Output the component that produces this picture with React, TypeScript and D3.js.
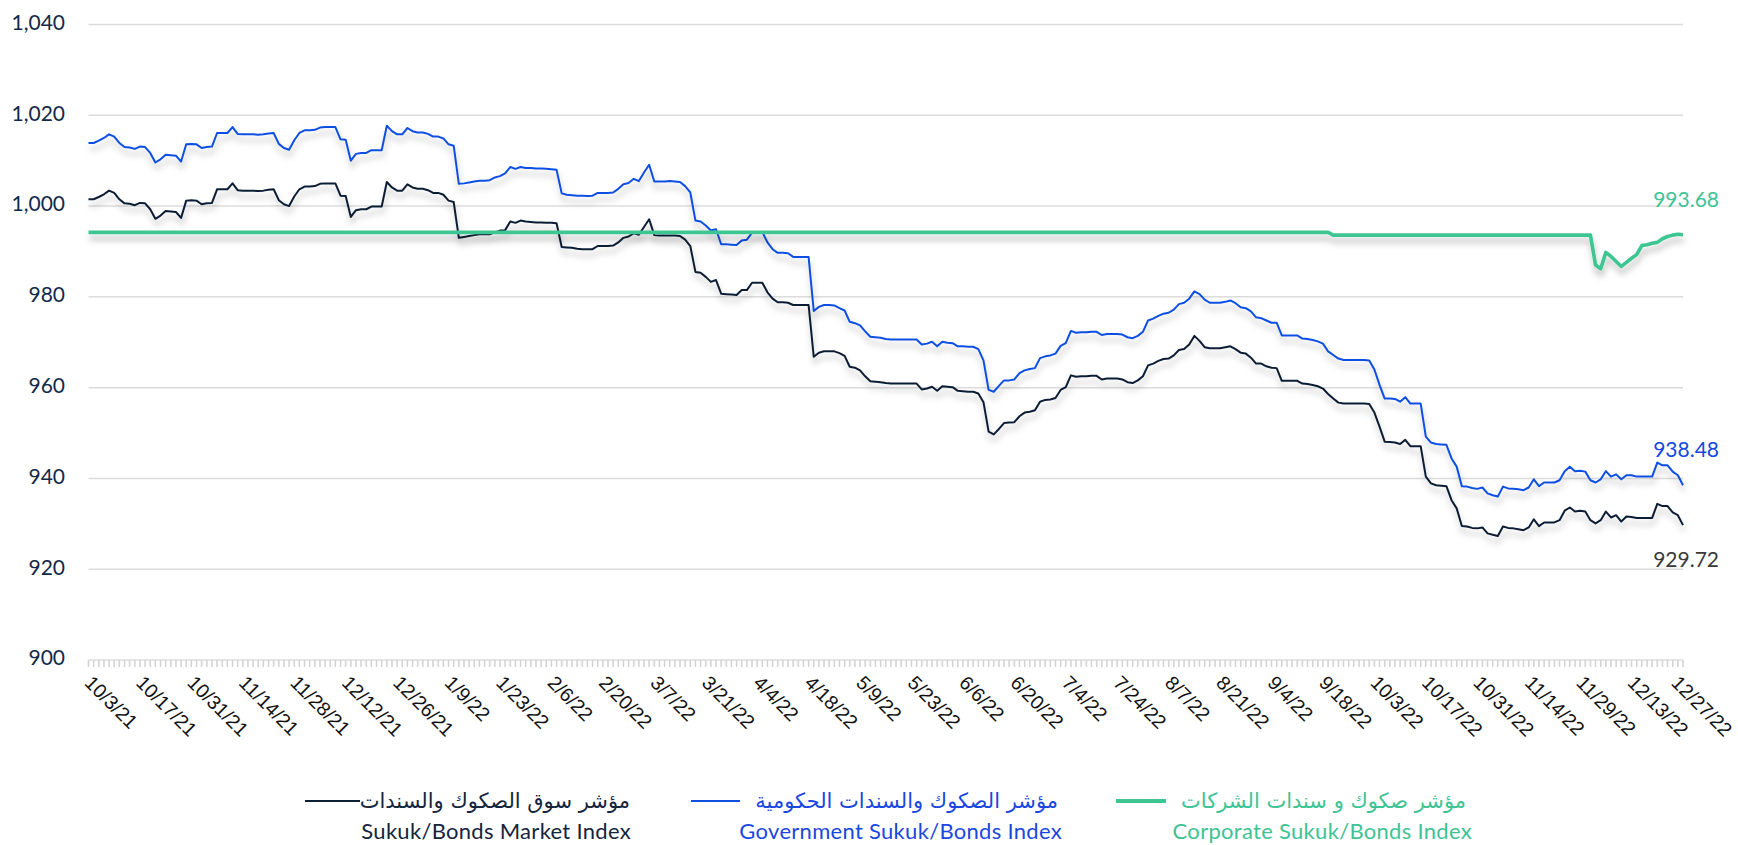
import * as d3 from 'd3';

// tick label every 10 trading days
const tickLabels = [
  '10/3/21', '10/17/21', '10/31/21', '11/14/21', '11/28/21', '12/12/21', '12/26/21', '1/9/22',
  '1/23/22', '2/6/22', '2/20/22', '3/7/22', '3/21/22', '4/4/22', '4/18/22', '5/9/22',
  '5/23/22', '6/6/22', '6/20/22', '7/4/22', '7/24/22', '8/7/22', '8/21/22', '9/4/22',
  '9/18/22', '10/3/22', '10/17/22', '10/31/22', '11/14/22', '11/29/22', '12/13/22', '12/27/22',
];

const yTicks = [900, 920, 940, 960, 980, 1000, 1020, 1040];

// Sukuk/Bonds Market Index
const market = [
  1001.5, 1001.5, 1002.0, 1002.6, 1003.4, 1002.9, 1001.5, 1000.6, 1000.5, 1000.2,
  1000.7, 1000.6, 999.3, 997.2, 997.9, 998.9, 998.8, 998.7, 997.4, 1001.2,
  1001.3, 1001.2, 1000.4, 1000.6, 1000.7, 1003.7, 1003.7, 1003.7, 1005.0, 1003.5,
  1003.4, 1003.4, 1003.4, 1003.3, 1003.4, 1003.6, 1003.7, 1001.3, 1000.4, 1000.0,
  1002.1, 1003.7, 1004.3, 1004.3, 1004.4, 1004.9, 1005.0, 1005.0, 1005.0, 1002.3,
  1002.2, 997.6, 999.1, 999.3, 999.3, 999.9, 999.9, 999.9, 1005.3, 1004.1,
  1003.4, 1003.4, 1004.8, 1004.1, 1003.8, 1003.8, 1003.5, 1002.9, 1002.9, 1002.5,
  1001.2, 1000.9, 993.0, 993.2, 993.4, 993.6, 993.8, 993.8, 993.8, 994.2,
  994.6, 994.7, 996.6, 996.3, 996.8, 996.6, 996.5, 996.4, 996.4, 996.3,
  996.3, 996.2, 991.0, 990.9, 990.8, 990.6, 990.5, 990.5, 990.5, 991.2,
  991.2, 991.2, 991.3, 992.0, 993.0, 993.3, 994.0, 993.7, 995.4, 997.1,
  993.6, 993.5, 993.5, 993.5, 993.5, 993.4, 992.6, 991.2, 985.5, 985.3,
  984.4, 983.3, 983.7, 980.7, 980.6, 980.5, 980.4, 981.5, 981.5, 983.1,
  983.1, 983.1, 981.0, 979.6, 978.8, 978.8, 978.7, 978.2, 978.2, 978.2,
  978.2, 966.8, 967.7, 968.0, 968.0, 968.0, 967.6, 967.0, 964.6, 964.4,
  963.8, 962.5, 961.4, 961.3, 961.2, 961.0, 960.9, 960.9, 960.9, 960.9,
  960.9, 960.9, 959.6, 959.8, 960.2, 959.3, 960.3, 960.2, 960.1, 959.3,
  959.2, 959.1, 959.1, 958.7, 956.8, 950.3, 949.7, 950.9, 952.2, 952.3,
  952.4, 953.7, 954.5, 954.7, 955.0, 956.9, 957.3, 957.4, 957.7, 959.5,
  960.1, 962.7, 962.4, 962.5, 962.5, 962.6, 962.6, 961.8, 962.0, 962.0,
  962.0, 961.8, 961.2, 961.0, 961.6, 962.5, 964.9, 965.3, 965.9, 966.3,
  966.4, 967.1, 968.3, 968.5, 969.5, 971.4, 970.3, 968.9, 968.7, 968.7,
  968.7, 968.9, 969.1, 968.5, 967.7, 967.5, 966.6, 965.3, 965.3, 964.7,
  964.4, 964.3, 961.5, 961.5, 961.5, 961.5, 960.9, 960.8, 960.6, 960.3,
  959.8, 958.6, 957.6, 956.7, 956.5, 956.5, 956.5, 956.5, 956.5, 956.4,
  954.5, 951.4, 948.1, 948.0, 947.9, 947.6, 948.5, 947.1, 947.1, 947.1,
  940.4, 938.9, 938.5, 938.4, 938.3, 935.2, 933.4, 929.5, 929.4, 929.1,
  929.0, 929.2, 927.9, 927.6, 927.3, 929.4, 929.1, 929.0, 928.8, 928.6,
  929.2, 931.0, 929.5, 930.3, 930.3, 930.3, 930.8, 932.9, 933.6, 932.7,
  932.9, 932.7, 930.8, 930.1, 930.8, 932.7, 931.4, 931.9, 930.5, 931.6,
  931.5, 931.3, 931.3, 931.3, 931.3, 934.4, 933.9, 933.9, 932.5, 931.9,
  929.72,
];

// Government Sukuk/Bonds Index
const government = [
  1013.9, 1013.9, 1014.4, 1015.0, 1015.8, 1015.3, 1013.9, 1013.0, 1012.9, 1012.6,
  1013.1, 1013.0, 1011.7, 1009.6, 1010.3, 1011.3, 1011.2, 1011.1, 1009.8, 1013.6,
  1013.7, 1013.6, 1012.8, 1013.0, 1013.1, 1016.1, 1016.1, 1016.1, 1017.4, 1015.9,
  1015.8, 1015.8, 1015.8, 1015.7, 1015.8, 1016.0, 1016.1, 1013.7, 1012.8, 1012.4,
  1014.5, 1016.1, 1016.7, 1016.7, 1016.8, 1017.3, 1017.4, 1017.4, 1017.4, 1014.7,
  1014.6, 1010.0, 1011.5, 1011.7, 1011.7, 1012.3, 1012.3, 1012.3, 1017.7, 1016.5,
  1015.8, 1015.8, 1017.2, 1016.5, 1016.2, 1016.2, 1015.9, 1015.3, 1015.3, 1014.9,
  1013.6, 1013.3, 1004.9, 1005.0, 1005.2, 1005.4, 1005.6, 1005.6, 1005.7, 1006.3,
  1006.6, 1007.2, 1008.6, 1008.2, 1008.6, 1008.4, 1008.4, 1008.3, 1008.3, 1008.2,
  1008.1, 1008.0, 1002.8, 1002.5, 1002.4, 1002.3, 1002.3, 1002.2, 1002.3, 1002.9,
  1002.9, 1002.9, 1003.0, 1003.8, 1004.8, 1005.1, 1006.0, 1005.5, 1007.4, 1009.1,
  1005.4, 1005.4, 1005.4, 1005.5, 1005.4, 1005.3, 1004.4, 1003.0, 996.8, 996.6,
  995.7, 994.6, 994.9, 991.6, 991.6, 991.5, 991.4, 992.4, 992.6, 994.1,
  994.2, 994.3, 992.0, 990.5, 989.7, 989.7, 989.6, 988.8, 988.8, 988.8,
  988.8, 976.9, 977.8, 978.2, 978.2, 978.1, 977.5, 977.0, 974.5, 974.2,
  973.7, 972.4, 971.2, 971.1, 971.0, 970.7, 970.6, 970.6, 970.6, 970.6,
  970.6, 970.6, 969.5, 969.7, 970.1, 969.1, 970.1, 969.9, 969.8, 969.1,
  969.1, 969.0, 969.0, 968.5, 966.0, 959.5, 959.1, 960.4, 961.6, 961.6,
  961.8, 963.2, 963.8, 964.1, 964.3, 966.5, 966.9, 967.1, 967.5, 969.2,
  969.8, 972.5, 972.1, 972.2, 972.2, 972.3, 972.3, 971.6, 971.8, 971.8,
  971.8, 971.7, 971.1, 970.9, 971.4, 972.3, 974.8, 975.2, 975.8, 976.3,
  976.5, 977.2, 978.4, 978.7, 979.6, 981.2, 980.6, 979.4, 978.7, 978.7,
  978.7, 978.9, 979.2, 978.6, 977.7, 977.5, 976.8, 975.5, 975.3, 974.8,
  974.3, 974.3, 971.5, 971.5, 971.5, 971.5, 970.8, 970.7, 970.5, 970.2,
  969.7, 968.0, 967.2, 966.4, 966.1, 966.1, 966.1, 966.1, 966.1, 966.0,
  964.0, 960.6, 957.6, 957.6, 957.5, 956.9, 957.9, 956.5, 956.5, 956.5,
  949.2, 947.9, 947.6, 947.5, 947.4, 944.4, 942.6, 938.3, 938.2, 937.9,
  937.7, 938.0, 936.7, 936.3, 936.0, 938.2, 937.8, 937.7, 937.6, 937.4,
  938.0, 939.8, 938.3, 939.1, 939.1, 939.1, 939.6, 941.6, 942.6, 941.6,
  941.7, 941.5, 939.6, 939.1, 939.8, 941.6, 940.4, 940.9, 939.8, 940.7,
  940.7, 940.4, 940.4, 940.4, 940.4, 943.5, 942.9, 942.9, 941.5, 940.7,
  938.48,
];

// Corporate Sukuk/Bonds Index
const corporate = [
  994.2, 994.2, 994.2, 994.2, 994.2, 994.2, 994.2, 994.2, 994.2, 994.2,
  994.2, 994.2, 994.2, 994.2, 994.2, 994.2, 994.2, 994.2, 994.2, 994.2,
  994.2, 994.2, 994.2, 994.2, 994.2, 994.2, 994.2, 994.2, 994.2, 994.2,
  994.2, 994.2, 994.2, 994.2, 994.2, 994.2, 994.2, 994.2, 994.2, 994.2,
  994.2, 994.2, 994.2, 994.2, 994.2, 994.2, 994.2, 994.2, 994.2, 994.2,
  994.2, 994.2, 994.2, 994.2, 994.2, 994.2, 994.2, 994.2, 994.2, 994.2,
  994.2, 994.2, 994.2, 994.2, 994.2, 994.2, 994.2, 994.2, 994.2, 994.2,
  994.2, 994.2, 994.2, 994.2, 994.2, 994.2, 994.2, 994.2, 994.2, 994.2,
  994.2, 994.2, 994.2, 994.2, 994.2, 994.2, 994.2, 994.2, 994.2, 994.2,
  994.2, 994.2, 994.2, 994.2, 994.2, 994.2, 994.2, 994.2, 994.2, 994.2,
  994.2, 994.2, 994.2, 994.2, 994.2, 994.2, 994.2, 994.2, 994.2, 994.2,
  994.2, 994.2, 994.2, 994.2, 994.2, 994.2, 994.2, 994.2, 994.2, 994.2,
  994.2, 994.2, 994.2, 994.2, 994.2, 994.2, 994.2, 994.2, 994.2, 994.2,
  994.2, 994.2, 994.2, 994.2, 994.2, 994.2, 994.2, 994.2, 994.2, 994.2,
  994.2, 994.2, 994.2, 994.2, 994.2, 994.2, 994.2, 994.2, 994.2, 994.2,
  994.2, 994.2, 994.2, 994.2, 994.2, 994.2, 994.2, 994.2, 994.2, 994.2,
  994.2, 994.2, 994.2, 994.2, 994.2, 994.2, 994.2, 994.2, 994.2, 994.2,
  994.2, 994.2, 994.2, 994.2, 994.2, 994.2, 994.2, 994.2, 994.2, 994.2,
  994.2, 994.2, 994.2, 994.2, 994.2, 994.2, 994.2, 994.2, 994.2, 994.2,
  994.2, 994.2, 994.2, 994.2, 994.2, 994.2, 994.2, 994.2, 994.2, 994.2,
  994.2, 994.2, 994.2, 994.2, 994.2, 994.2, 994.2, 994.2, 994.2, 994.2,
  994.2, 994.2, 994.2, 994.2, 994.2, 994.2, 994.2, 994.2, 994.2, 994.2,
  994.2, 994.2, 994.2, 994.2, 994.2, 994.2, 994.2, 994.2, 994.2, 994.2,
  994.2, 994.2, 994.2, 994.2, 994.2, 994.2, 994.2, 994.2, 994.2, 994.2,
  994.2, 994.2, 993.6, 993.6, 993.6, 993.6, 993.6, 993.6, 993.6, 993.6,
  993.6, 993.6, 993.6, 993.6, 993.6, 993.6, 993.6, 993.6, 993.6, 993.6,
  993.6, 993.6, 993.6, 993.6, 993.6, 993.6, 993.6, 993.6, 993.6, 993.6,
  993.6, 993.6, 993.6, 993.6, 993.6, 993.6, 993.6, 993.6, 993.6, 993.6,
  993.6, 993.6, 993.6, 993.6, 993.6, 993.6, 993.6, 993.6, 993.6, 993.6,
  993.6, 993.6, 993.6, 987.0, 986.2, 989.8, 988.9, 987.8, 986.7, 987.6,
  988.5, 989.3, 991.3, 991.5, 991.8, 992.0, 992.8, 993.3, 993.6, 993.8,
  993.68,
];

const seriesNames = ['market', 'government', 'corporate'];
const seriesColors = ['#0c1f35', '#0f4fe3', '#3ec592'];
const legendArabic = ['مؤشر سوق الصكوك والسندات', 'مؤشر الصكوك والسندات الحكومية', 'مؤشر صكوك و سندات الشركات'];
const legendEnglish = ['Sukuk/Bonds Market Index', 'Government Sukuk/Bonds Index', 'Corporate Sukuk/Bonds Index'];
const legendTextColors = ['#14253d', '#1a47e0', '#3ec394'];

export default function App() {
  const width = 1738;
  const height = 845;
  const plot = { left: 88.5, right: 1683, top: 24.5, bottom: 660 };

  const x = d3.scaleLinear().domain([0, market.length - 1]).range([plot.left, plot.right]);
  const y = d3.scaleLinear().domain([900, 1040]).range([plot.bottom, plot.top]);
  const line = d3.line<number>().x((_, i) => x(i)).y(d => y(d));
  const fmt = d3.format(',');
  const data = [market, government, corporate];

  const tickFont = 19.5;
  // keep the last rotated label inside the svg
  const maxAnchor = width - 3.42 * tickFont - 1;

  // legend anchor points (right edge of text, line start/end)
  const legendPos = [
    { lineX1: 305, lineX2: 360, textRight: 630, engRight: 631 },
    { lineX1: 691, lineX2: 740, textRight: 1058, engRight: 1062 },
    { lineX1: 1116, lineX2: 1166, textRight: 1466, engRight: 1472 },
  ];

  const endLabels = [
    { v: corporate[corporate.length - 1], color: '#3ec392', y: 207 },
    { v: government[government.length - 1], color: '#1448e0', y: 457 },
    { v: market[market.length - 1], color: '#3a3a3a', y: 567 },
  ];

  return (
    <svg width={width} height={height} style={{ position: 'absolute', left: 0, top: 0, background: '#fff' }}>
      <defs>
        <filter id="shadow" x="-5%" y="-20%" width="110%" height="160%">
          <feGaussianBlur in="SourceAlpha" stdDeviation="3" />
          <feOffset dx="1" dy="6" result="off" />
          <feFlood floodColor="#000" floodOpacity="0.26" />
          <feComposite in2="off" operator="in" />
          <feMerge>
            <feMergeNode />
            <feMergeNode in="SourceGraphic" />
          </feMerge>
        </filter>
      </defs>

      {/* gridlines */}
      {yTicks.map(t => (
        <line key={t} x1={plot.left} x2={plot.right} y1={y(t)} y2={y(t)} stroke="#dcdcdc" strokeWidth={1.5} />
      ))}
      {yTicks.map(t => (
        <text key={'l' + t} x={65} y={y(t) - 2} dy="0.35em" textAnchor="end"
          fontFamily="Lato, sans-serif" fontSize={21} fill="#13294b">{fmt(t)}</text>
      ))}

      {/* dense category ticks */}
      {market.map((_, i) => (
        <line key={'t' + i} x1={x(i)} x2={x(i)} y1={plot.bottom} y2={plot.bottom + 7} stroke="#d4d4d4" strokeWidth={1.6} />
      ))}
      {tickLabels.map((lab, k) => (
        <text key={lab + k} transform={`translate(${Math.min(x(k * 10) - 5, maxAnchor)},684) rotate(45)`}
          fontFamily="'Liberation Sans', Arial, sans-serif" fontSize={tickFont} fill="#111">{lab}</text>
      ))}

      {/* series */}
      {data.map((d, s) => (
        <path key={seriesNames[s]} d={line(d) || ''} fill="none" stroke={seriesColors[s]}
          strokeWidth={s === 2 ? 3.6 : 2} strokeLinejoin="round" filter="url(#shadow)" />
      ))}

      {endLabels.map(e => (
        <text key={e.y} x={1719} y={e.y} textAnchor="end" fontFamily="Lato, sans-serif" fontSize={21} fill={e.color}>
          {e.v.toFixed(2)}
        </text>
      ))}

      {/* legend */}
      {legendPos.map((p, s) => (
        <g key={'lg' + s}>
          <line x1={p.lineX1} x2={p.lineX2} y1={801} y2={801} stroke={seriesColors[s]} strokeWidth={s === 2 ? 4 : 2} />
          <text x={p.textRight} y={808} textAnchor="end" fontFamily="'DejaVu Sans', sans-serif" fontSize={21}
            fill={legendTextColors[s]}>{legendArabic[s]}</text>
          <text x={p.engRight} y={839} textAnchor="end" fontFamily="Lato, sans-serif" fontSize={22}
            letterSpacing={0.3} fill={legendTextColors[s]}>{legendEnglish[s]}</text>
        </g>
      ))}
    </svg>
  );
}
